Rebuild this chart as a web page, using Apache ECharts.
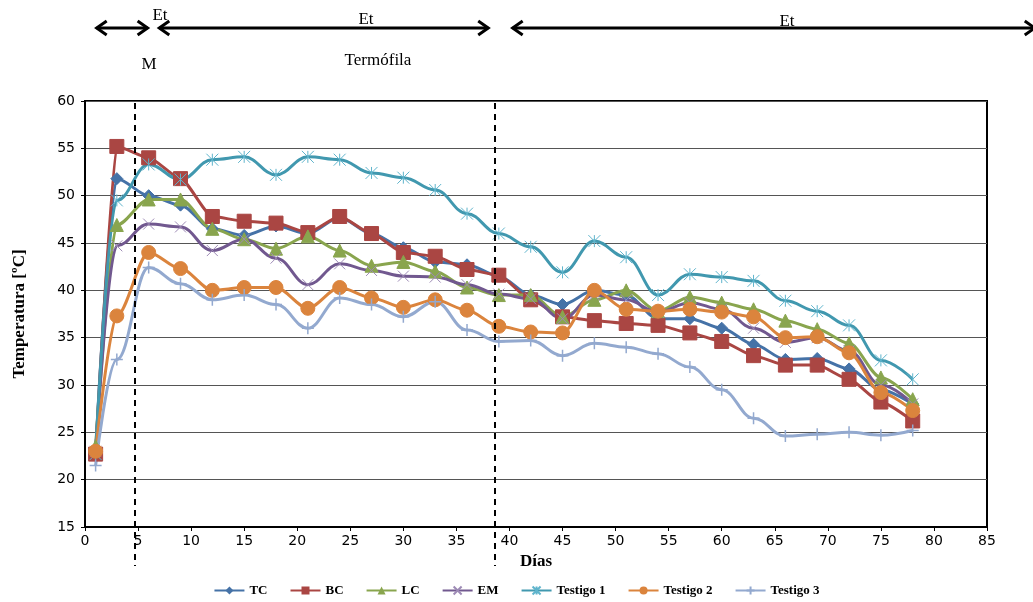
<!DOCTYPE html>
<html>
<head>
<meta charset="utf-8" />
<script src="https://cdn.jsdelivr.net/npm/echarts@6/dist/echarts.min.js"></script>
</head>
<body style="margin:0">
<div id="main" style="width:1033px;height:602px;"></div>
<script>
var days = [1,3,6,9,12,15,18,21,24,27,30,33,36,39,42,45,48,51,54,57,60,63,66,69,72,75,78];
var tc = [23,51.8,50,49,46.5,45.8,46.8,46,47.7,46,44.5,43,42.7,41.5,39.5,38.5,40,39.5,37,37,36,34.3,32.7,32.8,31.7,29.5,28];
var bc = [22.7,55.2,54,51.8,47.8,47.3,47.1,46.1,47.8,46,44,43.6,42.2,41.6,39,37.2,36.8,36.5,36.3,35.5,34.6,33.1,32.1,32.1,30.6,28.2,26.2];
var lc = [23.5,46.9,49.6,49.6,46.5,45.4,44.4,45.7,44.2,42.6,43,42,40.3,39.5,39.5,37.2,39,40,37.8,39.3,38.7,38,36.8,35.9,34.4,30.8,28.5];
var em = [23,44.7,47,46.7,44.2,45.4,43.4,40.6,42.8,42.1,41.5,41.4,40.6,39.6,39.1,37,39.5,39,37.7,38.7,38,36,34.5,35,33.6,30,28];
var t1 = [22.7,49.5,53.3,51.7,53.8,54.1,52.2,54.1,53.8,52.4,51.9,50.6,48.1,46,44.6,41.9,45.2,43.5,39.5,41.7,41.4,41,38.9,37.8,36.3,32.6,30.6];
var t2 = [23,37.3,44,42.3,40,40.3,40.3,38.1,40.3,39.2,38.2,39,37.9,36.2,35.6,35.5,40,38,37.8,38,37.7,37.2,35,35.1,33.4,29.2,27.3];
var t3 = [21.5,32.7,42.4,40.7,39,39.5,38.5,36,39.2,38.5,37.2,38.8,35.8,34.6,34.7,33.1,34.4,34,33.3,31.9,29.5,26.5,24.6,24.8,25,24.7,25.2];
var phaseBounds = [4.7, 38.6];

var font = '"Liberation Serif", serif';
function ser(name, data, color, symbol, size, smooth) {
  return {
    name: name, type: 'line', smooth: smooth, smoothMonotone: 'x',
    data: days.map(function (d, i) { return [d, data[i]]; }),
    symbol: symbol, symbolSize: size,
    lineStyle: { width: 3, color: color },
    itemStyle: { color: color, borderColor: color },
    emphasis: { disabled: true }
  };
}
var crossPath = 'path://M0,0L10,10M10,0L0,10';
var starPath = 'path://M0,0L10,10M10,0L0,10M5,0L5,10';
var plusPath = 'path://M5,0L5,10M0,5L10,5';
var series = [
  ser('TC', tc, '#4572A7', 'diamond', 12, 0.3),
  ser('BC', bc, '#AA4643', 'rect', 14, 0.2),
  ser('LC', lc, '#89A54E', 'triangle', 13, 0.3),
  ser('EM', em, '#71588F', crossPath, 11, 0.4),
  ser('Testigo 1', t1, '#4198AF', starPath, 12, 0.4),
  ser('Testigo 2', t2, '#DB843D', 'circle', 14, 0.3),
  ser('Testigo 3', t3, '#93A9CF', plusPath, 12, 0.4)
];
series[3].itemStyle = { color: 'none', borderColor: '#9d8ab5', borderWidth: 1 };
series[4].itemStyle = { color: 'none', borderColor: '#5fb4cc', borderWidth: 1 };
series[6].itemStyle = { color: 'none', borderColor: '#93A9CF', borderWidth: 1.5 };
series[0].markLine = {
  silent: true, symbol: 'none', label: { show: false },
  lineStyle: { color: '#000', type: [6, 5], width: 2 },
  data: phaseBounds.map(function (b) { return [{ coord: [b, 60], y: 103 }, { coord: [b, 15], y: 566 }]; })
};

var chart = echarts.init(document.getElementById('main'));
chart.setOption({
  animation: false,
  grid: { left: 85, right: 46, top: 101, bottom: 75, show: true, borderColor: '#000', borderWidth: 2 },
  legend: {
    bottom: 0, left: 'center', itemGap: 22, itemWidth: 30, itemHeight: 10,
    textStyle: { fontFamily: font, fontWeight: 'bold', fontSize: 13, color: '#000' },
    data: series.map(function (s) { return s.name; })
  },
  xAxis: {
    type: 'value', min: 0, max: 85, interval: 5,
    name: 'Días', nameLocation: 'middle', nameGap: 20,
    nameTextStyle: { fontFamily: font, fontWeight: 'bold', fontSize: 17, color: '#000' },
    axisLine: { lineStyle: { color: '#000', width: 2 } },
    axisTick: { show: true, length: 4, lineStyle: { color: '#000' } },
    axisLabel: { fontFamily: 'DejaVu Sans', fontSize: 14, color: '#000', margin: 7 },
    splitLine: { show: false }
  },
  yAxis: {
    type: 'value', min: 15, max: 60, interval: 5,
    name: 'Temperatura [ºC]', nameLocation: 'middle', nameGap: 57, nameRotate: 90,
    nameTextStyle: { fontFamily: font, fontWeight: 'bold', fontSize: 17, color: '#000' },
    axisLine: { show: true, lineStyle: { color: '#000', width: 2 } },
    axisTick: { show: true, length: 4, lineStyle: { color: '#000' } },
    axisLabel: { fontFamily: 'DejaVu Sans', fontSize: 14, color: '#000', margin: 10 },
    splitLine: { lineStyle: { color: '#555', width: 1 } }
  },
  series: series
});

function px(d) { return chart.convertToPixel({ xAxisIndex: 0 }, d); }
function arrow(x1, x2, y) {
  return {
    type: 'group', children: [
      { type: 'line', shape: { x1: x1, y1: y, x2: x2, y2: y }, style: { stroke: '#000', lineWidth: 3 } },
      { type: 'polyline', shape: { points: [[x1 + 10, y - 7], [x1, y], [x1 + 10, y + 7]] }, style: { stroke: '#000', lineWidth: 3, fill: 'none' } },
      { type: 'polyline', shape: { points: [[x2 - 10, y - 7], [x2, y], [x2 - 10, y + 7]] }, style: { stroke: '#000', lineWidth: 3, fill: 'none' } }
    ]
  };
}
var tStyle = function (t, x, y, size) {
  return { type: 'text', x: x, y: y, style: { text: t, font: size + 'px ' + font, fill: '#000', textAlign: 'center', textVerticalAlign: 'middle' } };
};
chart.setOption({
  graphic: [
    arrow(px(1.1), px(5.9), 28),
    arrow(px(7), px(38), 28),
    arrow(px(40.3), px(89.5), 28),
    tStyle('Et', 160, 16, 17),
    tStyle('Et', 366, 20, 17),
    tStyle('Et', 787, 22, 17),
    tStyle('M', 149, 65, 17),
    tStyle('Termófila', 378, 61, 17)
  ]
});
</script>
</body>
</html>
